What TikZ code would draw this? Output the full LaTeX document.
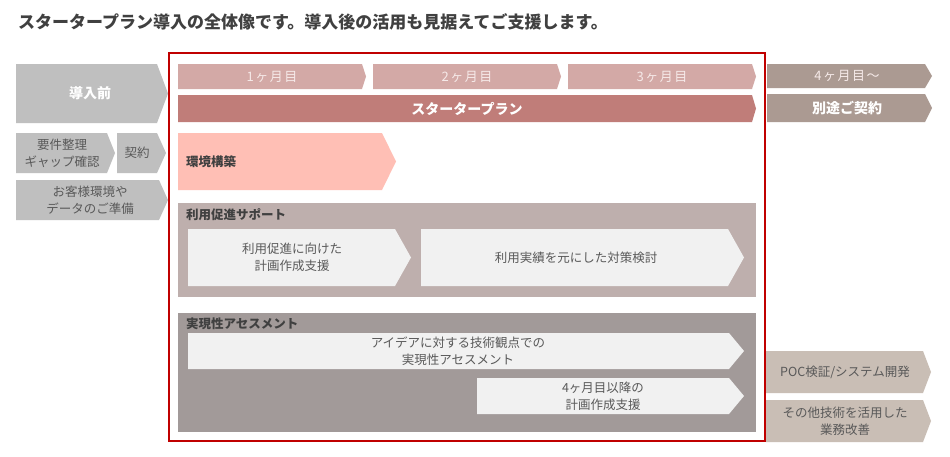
\documentclass[tikz,border=0pt]{standalone}
\usepackage{fontspec}
\setmainfont{Noto Sans CJK JP}
\newfontfamily\monthfont[LetterSpace=12]{Noto Sans CJK JP}
\definecolor{frameRed}{HTML}{C00000}
\definecolor{preGray}{HTML}{BFBFBF}
\definecolor{monthPink}{HTML}{D3A9A6}
\definecolor{planRose}{HTML}{C07D79}
\definecolor{laterTaupe}{HTML}{AB9A92}
\definecolor{envSalmon}{HTML}{FFBFB5}
\definecolor{supportBox}{HTML}{BEAFAD}
\definecolor{assessBox}{HTML}{A29A99}
\definecolor{innerGray}{HTML}{F1F1F1}
\definecolor{pocBeige}{HTML}{C9BEB5}
\definecolor{darkText}{HTML}{404040}
\definecolor{midText}{HTML}{595959}
\definecolor{monthText}{HTML}{F6EAE9}
\newcommand\chevshape[6]{\fill[#6] (#1,#2) -- ({#3-#5},#2) -- (#3,{(#2+#4)/2}) -- ({#3-#5},#4) -- (#1,#4) -- cycle;}
\tikzset{
  x=1pt,y=-1pt,
  whitebold/.style={text=white,font=\fontsize{14}{16}\selectfont\bfseries,inner sep=0pt},
  small/.style={text=midText,font=\fontsize{12.5}{17}\selectfont,align=center,inner sep=0pt},
  boxlabel/.style={text=darkText,font=\fontsize{12.5}{14}\selectfont\bfseries,anchor=west,inner sep=0pt},
  monthlabel/.style={text=monthText,font=\fontsize{13}{15}\selectfont\monthfont,inner sep=0pt},
}
\begin{document}
\begin{tikzpicture}
\useasboundingbox (0,0) rectangle (950,456);
\fill[white] (0,0) rectangle (950,456);
% title
\node[anchor=west,inner sep=0pt,text=darkText,font=\fontsize{17}{19}\selectfont\bfseries] (title) at (18,22) {スタータープラン導入の全体像です。導入後の活用も見据えてご支援します。};
% left column
\chevshape{16}{64}{168}{123}{11}{preGray}
\node[whitebold] (pre) at (90,93.5) {導入前};
\chevshape{16}{133}{115}{173}{8}{preGray}
\node[small] (req) at (62,153) {要件整理\\ギャップ確認};
\chevshape{117}{133}{166}{173}{9}{preGray}
\node[small] (contract) at (137,153) {契約};
\chevshape{16}{180}{168}{220}{9}{preGray}
\node[small] (env0) at (90,200) {お客様環境や\\データのご準備};
% months
\chevshape{178}{64}{366}{89}{4}{monthPink}
\node[monthlabel] (m1) at (272,76.5) {1ヶ月目};
\chevshape{373}{64}{561}{89}{4}{monthPink}
\node[monthlabel] (m2) at (467,76.5) {2ヶ月目};
\chevshape{568}{64}{756}{89}{4}{monthPink}
\node[monthlabel] (m3) at (662,76.5) {3ヶ月目};
\chevshape{178}{95}{756}{122}{4}{planRose}
\node[whitebold] (plan) at (467,108.5) {スタータープラン};
% later
\chevshape{767}{64}{932}{88}{7}{laterTaupe}
\node[monthlabel] (m4) at (847,76) {4ヶ月目〜};
\chevshape{767}{94}{932}{122}{7}{laterTaupe}
\node[whitebold] (sep) at (847,108) {別途ご契約};
% environment
\chevshape{178}{133}{396}{190}{14}{envSalmon}
\node[boxlabel] (envb) at (186,161.5) {環境構築};
% support box
\fill[supportBox] (178,203) rectangle (756,297);
\node[boxlabel] (supl) at (186,214.5) {利用促進サポート};
\chevshape{188}{229}{411}{286}{16}{innerGray}
\node[small] (sup1) at (292,257.5) {利用促進に向けた\\計画作成支援};
\chevshape{421}{229}{744}{286}{16}{innerGray}
\node[small] (sup2) at (576,257.5) {利用実績を元にした対策検討};
% assessment box
\fill[assessBox] (178,313) rectangle (756,432);
\node[boxlabel] (asl) at (186,323.5) {実現性アセスメント};
\chevshape{188}{333}{744}{369}{15}{innerGray}
\node[small] (as1) at (458,351) {アイデアに対する技術観点での\\実現性アセスメント};
\chevshape{477}{378}{744}{414}{15}{innerGray}
\node[small] (as2) at (603,396) {4ヶ月目以降の\\計画作成支援};
% right boxes
\chevshape{766}{351}{931}{393}{8}{pocBeige}
\node[small] (poc) at (845,372) {POC検証/システム開発};
\chevshape{766}{400}{931}{442}{8}{pocBeige}
\node[small] (other) at (845,421) {その他技術を活用した\\業務改善};
% red frame
\draw[frameRed,line width=2pt] (169,53) rectangle (765,441);
\end{tikzpicture}
\end{document}
